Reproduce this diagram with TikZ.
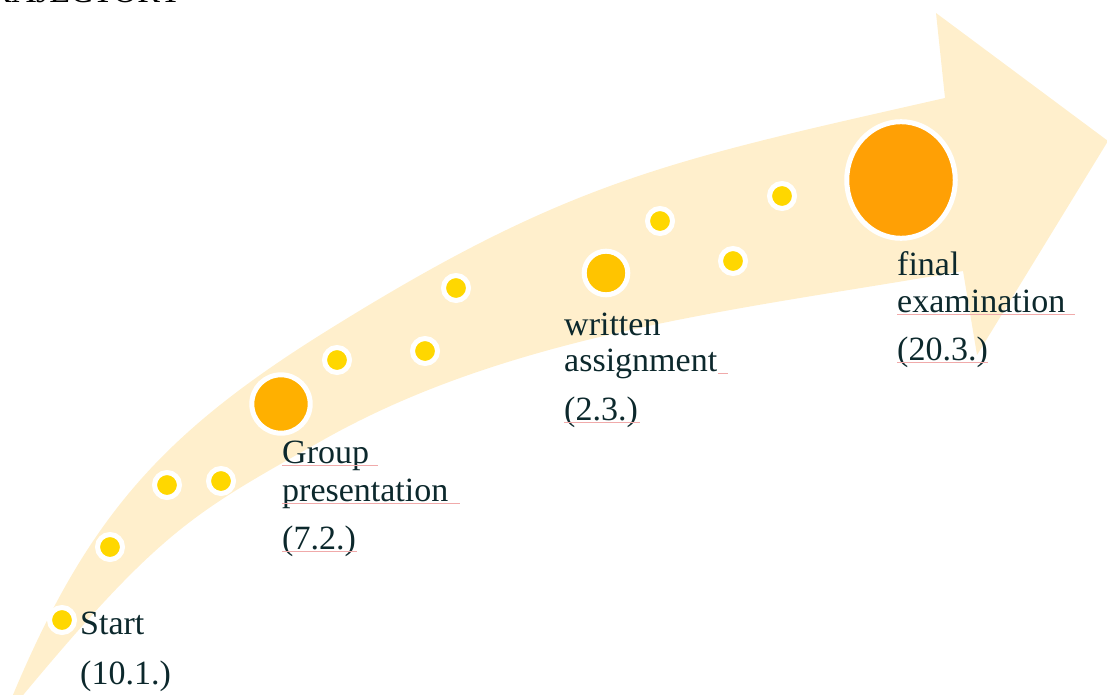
\documentclass[tikz,border=0pt]{standalone}
\usepackage{fontspec}
\setmainfont{Liberation Serif}
\usetikzlibrary{shapes.geometric}
\definecolor{arrowfill}{RGB}{255,239,204}
\definecolor{dotyellow}{RGB}{255,215,0}
\definecolor{grouporange}{RGB}{255,176,0}
\definecolor{writtenorange}{RGB}{255,196,0}
\definecolor{finalorange}{RGB}{255,160,5}
\definecolor{labeltext}{RGB}{12,40,44}
\definecolor{squigpink}{RGB}{240,170,170}
\begin{document}
\begin{tikzpicture}[x=1pt,y=-1pt,
  dot/.style={circle,inner sep=0pt,fill=dotyellow,draw=white,line width=5pt,minimum size=25pt},
  bigdot/.style={circle,inner sep=0pt,draw=white,line width=5pt},
  lbl/.style={anchor=base west,inner sep=0pt,text=labeltext,font=\fontsize{34}{37}\selectfont},
  squig/.style={draw=squigpink,line width=0.8pt}]
\useasboundingbox (0,0) rectangle (1107,695);
\clip (0,0) rectangle (1107,695);
% arrow
\fill[arrowfill] (10,702)
  .. controls (87,516) and (163,432) .. (333,327)
  .. controls (571,179.4) and (672,159.9) .. (945,98)
  -- (936,13) -- (1108,141) -- (977,355) -- (963,271)
  .. controls (746,309) and (514,332) .. (323,440)
  .. controls (192.5,513.5) and (160.5,529) .. (14,706) -- cycle;
% title
\node[anchor=base east,inner sep=0pt,font=\fontsize{34}{37}\selectfont] (title) at (183,3) {TRAJECTORY};
% dots
\node[dot] (d1) at (62,620) {};
\node[dot] (d2) at (110,547) {};
\node[dot] (d3) at (167,485) {};
\node[dot] (d4) at (221,481) {};
\node[bigdot,fill=grouporange,minimum size=58.4pt] (group) at (281,404) {};
\node[dot] (d5) at (337,360) {};
\node[dot] (d6) at (425,351) {};
\node[dot] (d7) at (456,288) {};
\node[bigdot,fill=writtenorange,minimum size=43.6pt] (written) at (606,273) {};
\node[dot] (d8) at (660,221) {};
\node[dot] (d9) at (733,261) {};
\node[dot] (d10) at (782,196) {};
\node[ellipse,inner sep=0pt,draw=white,line width=5pt,fill=finalorange,minimum width=108.5pt,minimum height=116.6pt] (final) at (901,180) {};
% labels
\node[lbl] (startA) at (80,634) {Start};
\node[lbl] (startB) at (80,684) {(10.1.)};
\node[lbl] (groupA) at (282,463) {Group};
\node[lbl] (groupB) at (282,501) {presentation};
\node[lbl] (groupC) at (282,549) {(7.2.)};
\node[lbl] (writA) at (564,335) {written};
\node[lbl] (writB) at (564,371) {assignment};
\node[lbl] (writC) at (564,420) {(2.3.)};
\node[lbl] (finA) at (897,275) {final};
\node[lbl] (finB) at (897,312) {examination};
\node[lbl] (finC) at (897,360) {(20.3.)};
% spell-check underlines
\draw[squig] (282,465.5) -- (378,465.5);
\draw[squig] (282,503.5) -- (460,503.5);
\draw[squig] (282,551.5) -- (357,551.5);
\draw[squig] (718,373.5) -- (728,373.5);
\draw[squig] (564,422.5) -- (640,422.5);
\draw[squig] (897,314.5) -- (1075,314.5);
\draw[squig] (897,362.5) -- (988,362.5);
\end{tikzpicture}
\end{document}
